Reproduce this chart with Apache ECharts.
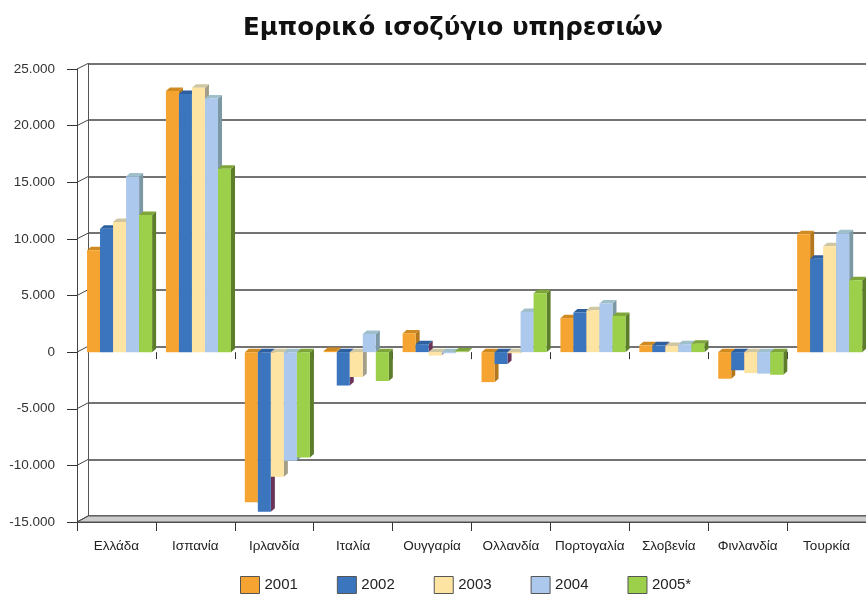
<!DOCTYPE html>
<html>
<head>
<meta charset="utf-8">
<script src="https://cdn.jsdelivr.net/npm/echarts@6/dist/echarts.min.js"></script>
<style>
html, body { margin: 0; padding: 0; background: #fff; }
#main { width: 866px; height: 594px; }
</style>
</head>
<body>
<div id="main"></div>
<script>
var categories = ['Ελλάδα', 'Ισπανία', 'Ιρλανδία', 'Ιταλία', 'Ουγγαρία', 'Ολλανδία', 'Πορτογαλία', 'Σλοβενία', 'Φινλανδία', 'Τουρκία'];
var years = ['2001', '2002', '2003', '2004', '2005*'];
var v2001 = [9000, 23050, -13250, 100, 1650, -2650, 3000, 600, -2350, 10400];
var v2002 = [10900, 22800, -14100, -2950, 700, -1050, 3500, 600, -1600, 8250];
var v2003 = [11500, 23350, -11000, -2200, -300, -100, 3700, 550, -1850, 9350];
var v2004 = [15500, 22400, -9600, 1600, -100, 3550, 4300, 700, -1900, 10500];
var v2005 = [12100, 16200, -9300, -2550, 50, 5200, 3200, 750, -2000, 6350];
var yTicks = [-15000, -10000, -5000, 0, 5000, 10000, 15000, 20000, 25000];

var values = [v2001, v2002, v2003, v2004, v2005];
var colors = ['#F6A431', '#3A75BE', '#FEE4A2', '#ACC8EC', '#9CD04A'];
var topColors = ['#D08A22', '#2D5E9E', '#CFC6A2', '#9FBFCB', '#7EA53A'];
var sideColors = ['#B5771D', '#6C3358', '#A39E88', '#7C98A4', '#5C7D2A'];

var gridL = 77, backL = 88;

var myChart = echarts.init(document.getElementById('main'));

function fmt(v) {
    var s = Math.abs(v).toString().replace(/\B(?=(\d{3})+(?!\d))/g, '.');
    return (v < 0 ? '-' : '') + s;
}

function makeRender(s) {
    return function (params, api) {
        var ci = api.value(0), v = api.value(1);
        var p0 = api.coord([ci, 0]);
        var p1 = api.coord([ci, v]);
        var cw = api.size([1, 0])[0];
        var bw = cw * 0.165;
        var x = p0[0] - cw / 2 + cw * 0.127 + s * bw;
        var yt = Math.min(p0[1], p1[1]), yb = Math.max(p0[1], p1[1]);
        var dx = 4, dy = -3.5;
        return {
            type: 'group',
            children: [
                {type: 'polygon', shape: {points: [[x + bw, yt], [x + bw + dx, yt + dy], [x + bw + dx, yb + dy], [x + bw, yb]]}, style: {fill: sideColors[s]}},
                {type: 'polygon', shape: {points: [[x, yt], [x + dx, yt + dy], [x + bw + dx, yt + dy], [x + bw, yt]]}, style: {fill: topColors[s]}},
                {type: 'rect', shape: {x: x, y: yt, width: bw, height: yb - yt}, style: {fill: colors[s]}}
            ]
        };
    };
}

var series = [];
for (var s = 0; s < years.length; s++) {
    series.push({
        name: years[s],
        type: 'custom',
        xAxisIndex: 0,
        yAxisIndex: 0,
        itemStyle: {color: colors[s]},
        renderItem: makeRender(s),
        data: values[s].map(function (v, i) { return [i, v]; })
    });
}

option = {
    animation: false,
    textStyle: {fontFamily: 'Liberation Sans'},
    title: {
        text: 'Εμπορικό ισοζύγιο υπηρεσιών',
        left: 238,
        top: 11,
        textStyle: {fontSize: 24.5, fontWeight: 'bold', color: '#111', fontFamily: 'DejaVu Sans'}
    },
    legend: {
        data: years,
        left: 235,
        top: 571,
        itemWidth: 19,
        itemHeight: 17,
        itemGap: 39,
        icon: 'rect',
        itemStyle: {borderColor: '#555', borderWidth: 1},
        textStyle: {fontSize: 15, color: '#222'}
    },
    grid: [
        {left: gridL, right: 0, top: 69, bottom: 72},
        {left: backL, right: -11, top: 63.5, bottom: 78}
    ],
    xAxis: [
        {
            type: 'category', gridIndex: 0, data: categories, position: 'bottom',
            axisLine: {show: false, onZero: true},
            axisTick: {show: true, interval: 0, length: 7, lineStyle: {color: '#333'}},
            axisLabel: {show: false}
        },
        {
            type: 'category', gridIndex: 0, data: categories, position: 'bottom',
            axisLine: {show: true, onZero: false, lineStyle: {color: '#444'}},
            axisTick: {show: true, interval: 0, length: 9, lineStyle: {color: '#333'}},
            axisLabel: {interval: 0, margin: 17, fontSize: 13.5, color: '#222'}
        },
        {type: 'category', gridIndex: 1, data: categories, show: false}
    ],
    yAxis: [
        {
            type: 'value', gridIndex: 0, min: -15000, max: 25000, interval: 5000,
            axisLine: {show: true, lineStyle: {color: '#444'}},
            axisTick: {show: true, length: 10, lineStyle: {color: '#333'}},
            splitLine: {show: false},
            axisLabel: {margin: 22, fontSize: 13.5, color: '#333', formatter: fmt}
        },
        {
            type: 'value', gridIndex: 1, min: -15000, max: 25000, interval: 5000,
            axisLine: {show: true, lineStyle: {color: '#555'}},
            axisTick: {show: false},
            axisLabel: {show: false},
            splitLine: {show: true, lineStyle: {color: '#444', width: 1.5}}
        }
    ],
    series: series
};

myChart.setOption(option);

// floor and the little connectors between front axis and back wall
var yf = myChart.convertToPixel({yAxisIndex: 0}, -15000);
var yb = myChart.convertToPixel({yAxisIndex: 1}, -15000);
var gfx = [{
    type: 'polygon', z: 1,
    shape: {points: [[gridL, yf], [backL, yb], [900, yb], [900, yf]]},
    style: {fill: '#cccccc', stroke: '#555', lineWidth: 1}
}];
yTicks.forEach(function (t) {
    var a = myChart.convertToPixel({yAxisIndex: 0}, t);
    var b = myChart.convertToPixel({yAxisIndex: 1}, t);
    gfx.push({type: 'line', z: 1, shape: {x1: gridL, y1: a, x2: backL, y2: b}, style: {stroke: '#444', lineWidth: 1}});
});
myChart.setOption({graphic: gfx});
</script>
</body>
</html>
